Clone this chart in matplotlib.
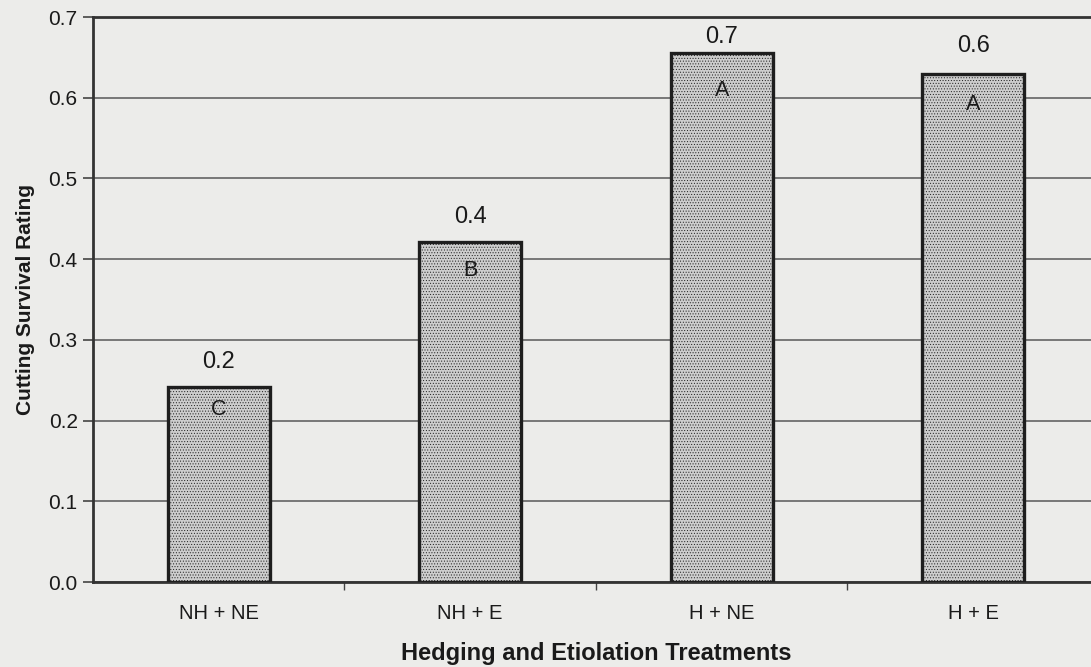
import matplotlib.pyplot as plt
import numpy as np

plt.rcParams['font.family'] = ['Liberation Sans', 'DejaVu Sans']
plt.rcParams['hatch.color'] = '#b2b2b2'
plt.rcParams['hatch.linewidth'] = 0.4

# podatki
treatments = ["NH + NE", "NH + E", "H + NE", "H + E"]
survival = [0.242, 0.421, 0.655, 0.630]
value_labels = ["0.2", "0.4", "0.7", "0.6"]
groups = ["C", "B", "A", "A"]

# odmiki oznak (v točkah)
label_offsets = [18, 18, 11.5, 19.5]
group_offsets = [-16.5, -20, -26.5, -22.5]

fig = plt.figure(figsize=(10.91, 6.67), dpi=100)
fig.patch.set_facecolor('#ececea')
ax = fig.add_axes([0.0852, 0.1274, 0.922, 0.847])
ax.set_facecolor('#ececea')

x = np.arange(len(treatments))
ax.bar(x, survival, width=0.405, color='#cdcdcd', edgecolor='#1e1e1e',
       linewidth=2.4, hatch='......', zorder=3)

for i in range(len(x)):
	ax.annotate(value_labels[i], (x[i], survival[i]), xytext=(0, label_offsets[i]),
	            textcoords='offset points', ha='center', va='center',
	            fontsize=17, color='#1a1a1a', zorder=4)
	ax.annotate(groups[i], (x[i], survival[i]), xytext=(0, group_offsets[i]),
	            textcoords='offset points', ha='center', va='center',
	            fontsize=15.5, color='#1a1a1a', zorder=4)

ax.set_xlim(-0.5, 3.5)
ax.set_ylim(0, 0.7)
ax.set_yticks(np.arange(0, 0.71, 0.1))
ax.set_yticklabels(["%.1f" % v for v in np.arange(0, 0.71, 0.1)])
ax.yaxis.grid(True, color='#6e6e6e', linewidth=1.3, zorder=1)
ax.set_axisbelow(True)

ax.set_xticks(x)
ax.set_xticklabels(treatments)
ax.set_xticks([0.5, 1.5, 2.5], minor=True)
ax.tick_params(axis='x', which='major', length=0, pad=16, labelsize=14.5, colors='#1a1a1a')
ax.tick_params(axis='x', which='minor', length=6, width=1, color='#444444')
ax.tick_params(axis='y', length=7, width=1.2, labelsize=15, color='#444444',
               labelcolor='#1a1a1a', pad=4)

ax.spines['right'].set_visible(False)
for s in ['left', 'bottom', 'top']:
	ax.spines[s].set_color('#333333')
	ax.spines[s].set_linewidth(2)

ax.set_xlabel("Hedging and Etiolation Treatments", fontsize=17, fontweight='bold',
              color='#1a1a1a')
ax.xaxis.set_label_coords(0.5, -0.106)
ax.set_ylabel("Cutting Survival Rating", fontsize=15, fontweight='bold',
              color='#1a1a1a')
ax.yaxis.set_label_coords(-0.058, 0.5)

fig.savefig("out.png", dpi=100, facecolor=fig.get_facecolor())
